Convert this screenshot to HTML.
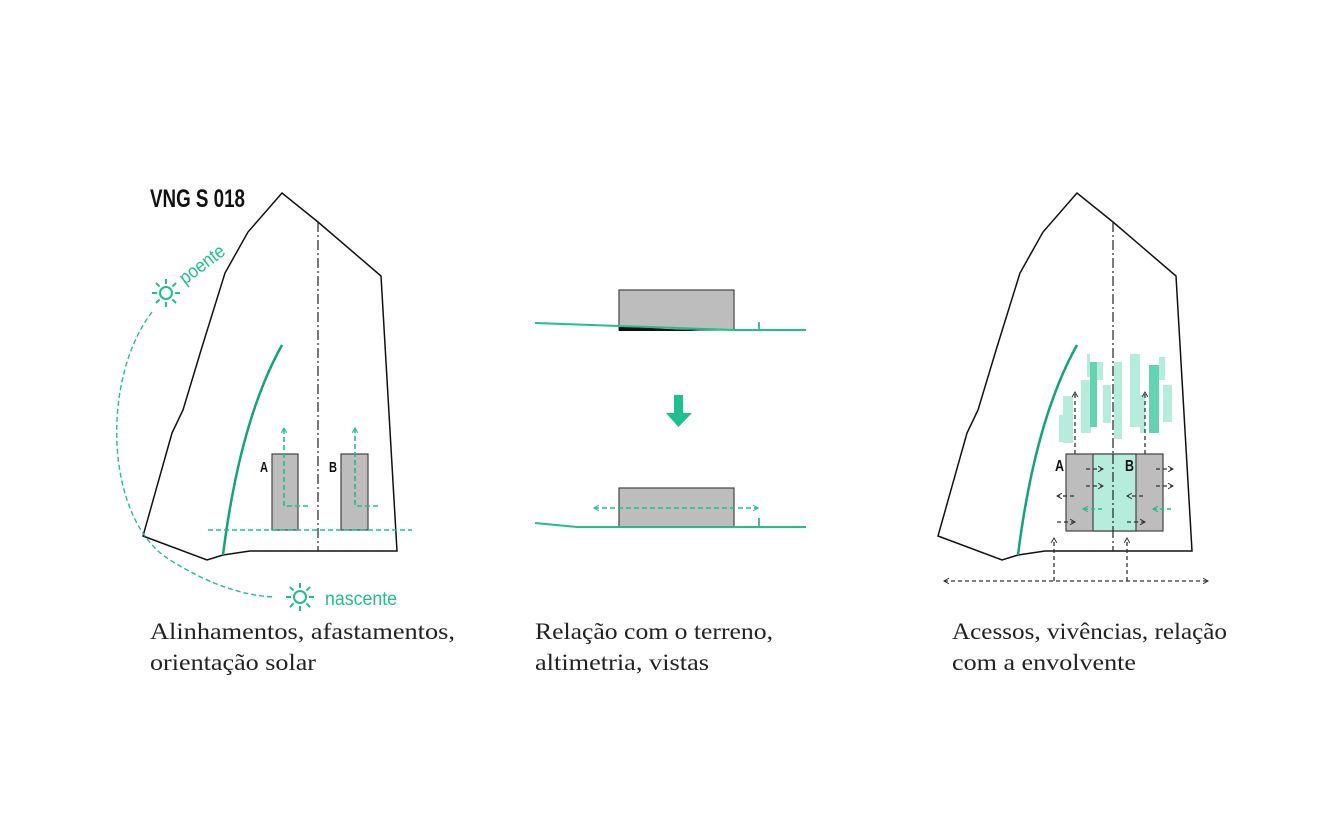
<!DOCTYPE html>
<html><head><meta charset="utf-8"><style>
html,body{margin:0;padding:0;background:#fff;}
svg{display:block;}
.cap{font-family:"Liberation Serif",serif;font-size:23px;fill:#222;}
</style></head><body>
<svg width="1320" height="825" viewBox="0 0 1320 825" xmlns="http://www.w3.org/2000/svg">
<defs>
<marker id="ag" viewBox="0 0 10 10" refX="8" refY="5" markerWidth="7" markerHeight="7" orient="auto-start-reverse" markerUnits="userSpaceOnUse"><path d="M1,1 L8,5 L1,9" fill="none" stroke="#1fbf8f" stroke-width="1.6"/></marker>
<marker id="ak" viewBox="0 0 10 10" refX="8" refY="5" markerWidth="7" markerHeight="7" orient="auto-start-reverse" markerUnits="userSpaceOnUse"><path d="M1,1 L8,5 L1,9" fill="none" stroke="#333" stroke-width="1.4"/></marker>
</defs>

<text x="150" y="207" font-family="Liberation Sans, sans-serif" font-weight="bold" font-size="25" fill="#111" textLength="95" lengthAdjust="spacingAndGlyphs">VNG S 018</text>

<!-- LEFT PANEL -->
<polygon points="282,193 248,232 225,273 202,347 183,410 172,433 143,536 207,560 223,555 250,551 397,551 381,276 318,222" fill="none" stroke="#111" stroke-width="1.5"/>
<line x1="318" y1="222" x2="318" y2="551" stroke="#222" stroke-width="1.2" stroke-dasharray="10,3,2,3"/>
<path d="M282,345 Q240,420 223,555" fill="none" stroke="#14a27a" stroke-width="2.5"/>
<rect x="272" y="454" width="26" height="76" fill="#bdbdbd" stroke="#444" stroke-width="1.2"/>
<rect x="341" y="454" width="27" height="76" fill="#bdbdbd" stroke="#444" stroke-width="1.2"/>
<text x="260" y="472" font-family="Liberation Sans,sans-serif" font-weight="bold" font-size="15" fill="#111" textLength="8" lengthAdjust="spacingAndGlyphs">A</text>
<text x="329" y="472" font-family="Liberation Sans,sans-serif" font-weight="bold" font-size="15" fill="#111" textLength="8" lengthAdjust="spacingAndGlyphs">B</text>
<line x1="208" y1="530" x2="412" y2="530" stroke="#1fbf8f" stroke-width="1.6" stroke-dasharray="5,3"/>
<path d="M308,506 L284,506 L284,428" fill="none" stroke="#1fbf8f" stroke-width="1.6" stroke-dasharray="5,3" marker-end="url(#ag)"/>
<path d="M378,506 L355,506 L355,428" fill="none" stroke="#1fbf8f" stroke-width="1.6" stroke-dasharray="5,3" marker-end="url(#ag)"/>
<path d="M152,312 C100,380 105,520 170,560 C210,585 245,596 275,597" fill="none" stroke="#1fbf8f" stroke-width="1.4" stroke-dasharray="5,3"/>
<g stroke="#1fbf8f" stroke-width="2" fill="none">
<circle cx="166" cy="293" r="6"/>
<g transform="translate(166,293)"><line x1="9" y1="0" x2="14" y2="0"/><line x1="-9" y1="0" x2="-14" y2="0"/><line x1="0" y1="9" x2="0" y2="14"/><line x1="0" y1="-9" x2="0" y2="-14"/><line x1="6.4" y1="6.4" x2="10" y2="10"/><line x1="-6.4" y1="6.4" x2="-10" y2="10"/><line x1="6.4" y1="-6.4" x2="10" y2="-10"/><line x1="-6.4" y1="-6.4" x2="-10" y2="-10"/></g>
<circle cx="300" cy="597" r="6"/>
<g transform="translate(300,597)"><line x1="9" y1="0" x2="14" y2="0"/><line x1="-9" y1="0" x2="-14" y2="0"/><line x1="0" y1="9" x2="0" y2="14"/><line x1="0" y1="-9" x2="0" y2="-14"/><line x1="6.4" y1="6.4" x2="10" y2="10"/><line x1="-6.4" y1="6.4" x2="-10" y2="10"/><line x1="6.4" y1="-6.4" x2="10" y2="-10"/><line x1="-6.4" y1="-6.4" x2="-10" y2="-10"/></g>
</g>
<text transform="translate(185,285) rotate(-37)" font-family="Liberation Sans,sans-serif" font-size="19" fill="#1fbf8f" textLength="52" lengthAdjust="spacingAndGlyphs">poente</text>
<text x="325" y="605" font-family="Liberation Sans,sans-serif" font-size="19" fill="#1fbf8f" textLength="72" lengthAdjust="spacingAndGlyphs">nascente</text>

<text class="cap" x="150" y="639" textLength="305" lengthAdjust="spacingAndGlyphs">Alinhamentos, afastamentos,</text>
<text class="cap" x="150" y="670" textLength="166" lengthAdjust="spacingAndGlyphs">orientação solar</text>

<!-- MIDDLE PANEL -->
<rect x="619" y="290" width="115" height="40" fill="#bdbdbd" stroke="#444" stroke-width="1.2"/>
<polygon points="619,326 619,331 700,331" fill="#111"/>
<polyline points="535,323 619,326 734,330 806,330" fill="none" stroke="#1fbf8f" stroke-width="2"/>
<line x1="759" y1="322" x2="759" y2="330" stroke="#1fbf8f" stroke-width="1.8"/>
<polygon points="674,395 683,395 683,413 692,413 678.5,427 666,413 674,413" fill="#1fbf8f"/>
<rect x="619" y="488" width="115" height="39" fill="#bdbdbd" stroke="#444" stroke-width="1.2"/>
<polyline points="535,523 577,527 806,527" fill="none" stroke="#1fbf8f" stroke-width="2"/>
<line x1="759" y1="518" x2="759" y2="527" stroke="#1fbf8f" stroke-width="1.8"/>
<line x1="594" y1="508" x2="758" y2="508" stroke="#1fbf8f" stroke-width="1.6" stroke-dasharray="5,3" marker-start="url(#ag)" marker-end="url(#ag)"/>

<text class="cap" x="535" y="639" textLength="238" lengthAdjust="spacingAndGlyphs">Relação com o terreno,</text>
<text class="cap" x="535" y="670" textLength="174" lengthAdjust="spacingAndGlyphs">altimetria, vistas</text>

<!-- RIGHT PANEL -->
<polygon points="1077,193 1043,232 1020,273 997,347 978,410 967,433 938,536 1002,560 1018,555 1045,551 1192,551 1176,276 1113,222" fill="none" stroke="#111" stroke-width="1.5"/>
<g fill="#b5ecdc">
<rect x="1059" y="415" width="4" height="27"/>
<rect x="1063" y="396" width="10" height="47"/>
<rect x="1081" y="380" width="10" height="53"/>
<rect x="1087" y="354" width="3" height="23"/>
<rect x="1097" y="362" width="6" height="18"/>
<rect x="1103" y="385" width="8" height="38"/>
<rect x="1114" y="362" width="8" height="77"/>
<rect x="1130" y="354" width="10" height="73"/>
<rect x="1140" y="395" width="5" height="38"/>
<rect x="1159" y="357" width="6" height="23"/>
<rect x="1163" y="385" width="9" height="37"/>
</g>
<g fill="#63d3b1">
<rect x="1090" y="362" width="7" height="65"/>
<rect x="1149" y="365" width="10" height="68"/>
</g>
<line x1="1113" y1="222" x2="1113" y2="551" stroke="#222" stroke-width="1.2" stroke-dasharray="10,3,2,3"/>
<path d="M1077,345 Q1035,420 1018,555" fill="none" stroke="#14a27a" stroke-width="2.5"/>
<rect x="1066" y="454" width="97" height="77" fill="#bdbdbd" stroke="#444" stroke-width="1.2"/>
<rect x="1093" y="454" width="43" height="77" fill="#b5ecdc" stroke="#444" stroke-width="1.2"/>
<line x1="1113" y1="454" x2="1113" y2="531" stroke="#222" stroke-width="1.2" stroke-dasharray="10,3,2,3"/>
<text x="1055" y="471" font-family="Liberation Sans,sans-serif" font-weight="bold" font-size="16" fill="#111" textLength="9" lengthAdjust="spacingAndGlyphs">A</text>
<text x="1125" y="471" font-family="Liberation Sans,sans-serif" font-weight="bold" font-size="16" fill="#111" textLength="9" lengthAdjust="spacingAndGlyphs">B</text>
<g stroke="#333" stroke-width="1.3" stroke-dasharray="4,3" fill="none">
<line x1="1075" y1="454" x2="1075" y2="392" marker-end="url(#ak)"/>
<line x1="1145" y1="454" x2="1145" y2="392" marker-end="url(#ak)"/>
<line x1="1086" y1="469" x2="1103" y2="469" marker-end="url(#ak)"/>
<line x1="1156" y1="469" x2="1173" y2="469" marker-end="url(#ak)"/>
<line x1="1086" y1="486" x2="1103" y2="486" marker-end="url(#ak)"/>
<line x1="1156" y1="486" x2="1173" y2="486" marker-end="url(#ak)"/>
<line x1="1074" y1="496" x2="1057" y2="496" marker-end="url(#ak)"/>
<line x1="1143" y1="496" x2="1127" y2="496" marker-end="url(#ak)"/>
<line x1="1057" y1="522" x2="1075" y2="522" marker-end="url(#ak)"/>
<line x1="1127" y1="522" x2="1145" y2="522" marker-end="url(#ak)"/>
<line x1="944" y1="581" x2="1208" y2="581" marker-start="url(#ak)" marker-end="url(#ak)"/>
<line x1="1054" y1="581" x2="1054" y2="538" marker-end="url(#ak)"/>
<line x1="1127" y1="581" x2="1127" y2="538" marker-end="url(#ak)"/>
</g>
<g stroke="#1fbf8f" stroke-width="1.6" stroke-dasharray="4,3">
<line x1="1102" y1="509" x2="1083" y2="509" marker-end="url(#ag)"/>
<line x1="1171" y1="509" x2="1153" y2="509" marker-end="url(#ag)"/>
</g>

<text class="cap" x="952" y="639" textLength="275" lengthAdjust="spacingAndGlyphs">Acessos, vivências, relação</text>
<text class="cap" x="952" y="670" textLength="184" lengthAdjust="spacingAndGlyphs">com a envolvente</text>
</svg>
</body></html>
